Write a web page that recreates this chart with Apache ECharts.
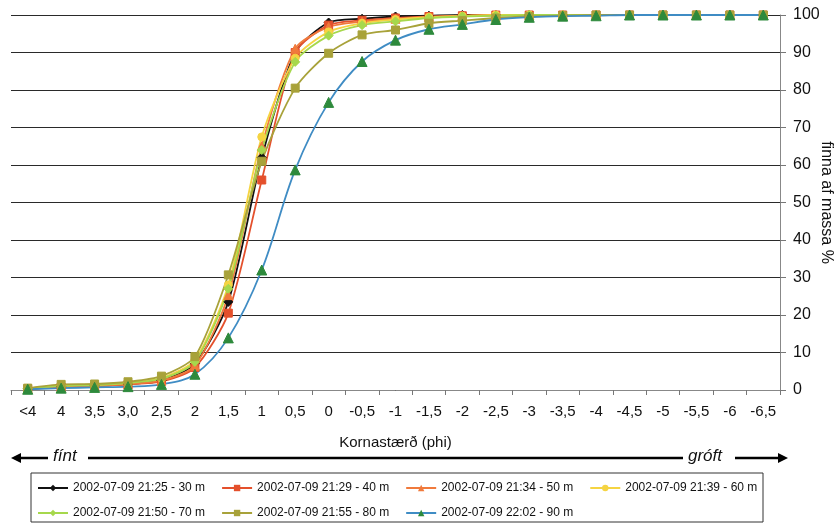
<!DOCTYPE html>
<html>
<head>
<meta charset="utf-8">
<script src="https://cdn.jsdelivr.net/npm/echarts@6/dist/echarts.min.js"></script>
<style>
  html, body { margin: 0; padding: 0; background: #fff; }
  #chart { width: 837px; height: 524px; }
</style>
</head>
<body>
<div id="chart"></div>
<script>
// Grain size classes (phi), fine to coarse
var categories = ['<4', '4', '3,5', '3,0', '2,5', '2', '1,5', '1', '0,5', '0', '-0,5', '-1', '-1,5', '-2', '-2,5', '-3', '-3,5', '-4', '-4,5', '-5', '-5,5', '-6', '-6,5'];

// Cumulative mass percent per sample
var s2125 = [0.3, 0.9, 1.1, 1.6, 2.5, 7.0, 23.5, 62, 90.0, 98.0, 99.0, 99.6, 99.8, 100, 100, 100, 100, 100, 100, 100, 100, 100, 100];
var s2129 = [0.3, 0.8, 1.0, 1.5, 2.3, 6.0, 20.5, 56, 90.0, 97.3, 98.6, 99.2, 99.6, 99.8, 100, 100, 100, 100, 100, 100, 100, 100, 100];
var s2134 = [0.3, 0.9, 1.1, 1.6, 2.5, 6.5, 25.3, 65, 91.0, 96.8, 98.2, 99.0, 99.5, 99.8, 100, 100, 100, 100, 100, 100, 100, 100, 100];
var s2139 = [0.4, 1.2, 1.4, 2.0, 3.2, 8.0, 28.0, 67.5, 88.5, 95.5, 97.8, 98.8, 99.4, 99.7, 100, 100, 100, 100, 100, 100, 100, 100, 100];
var s2150 = [0.4, 1.1, 1.3, 1.9, 3.0, 7.5, 27.0, 64, 87.5, 94.5, 97.3, 98.3, 99.2, 99.6, 99.8, 100, 100, 100, 100, 100, 100, 100, 100];
var s2155 = [0.5, 1.5, 1.6, 2.2, 3.7, 8.9, 30.7, 61, 80.5, 89.8, 94.7, 96.0, 97.8, 98.5, 99.2, 99.6, 99.8, 100, 100, 100, 100, 100, 100];
var s2202 = [0.2, 0.5, 0.7, 0.9, 1.5, 4.2, 13.9, 32, 58.7, 76.7, 87.6, 93.3, 96.2, 97.5, 98.8, 99.4, 99.7, 99.8, 100, 100, 100, 100, 100];

var seriesNames = [
  '2002-07-09 21:25 - 30 m',
  '2002-07-09 21:29 - 40 m',
  '2002-07-09 21:34 - 50 m',
  '2002-07-09 21:39 - 60 m',
  '2002-07-09 21:50 - 70 m',
  '2002-07-09 21:55 - 80 m',
  '2002-07-09 22:02 - 90 m'
];

var FONT = 'Liberation Sans, Arial, sans-serif';

function mkSeries(name, data, lineColor, markColor, symbol, size, smooth) {
  return {
    name: name,
    type: 'line',
    data: data,
    symbol: symbol,
    symbolSize: size,
    smooth: smooth,
    lineStyle: { color: lineColor, width: 1.8 },
    itemStyle: { color: markColor, borderColor: markColor },
    emphasis: { disabled: true }
  };
}

function mkLegend(top, names) {
  return {
    left: 37,
    top: top,
    itemWidth: 30,
    itemHeight: 8,
    itemGap: 16,
    padding: 0,
    textStyle: { fontSize: 12, color: '#111', fontFamily: FONT },
    data: names
  };
}

var chart = echarts.init(document.getElementById('chart'), null, { renderer: 'canvas' });

chart.setOption({
  animation: false,
  backgroundColor: '#ffffff',
  grid: { left: 11, right: 57, top: 15, bottom: 134, containLabel: false, outerBoundsMode: 'none' },
  xAxis: {
    type: 'category',
    data: categories,
    boundaryGap: true,
    axisLine: { show: true, lineStyle: { color: '#888', width: 1 } },
    axisTick: { show: true, length: 5, interval: 0, lineStyle: { color: '#777' } },
    axisLabel: { interval: 0, fontSize: 15, color: '#111', margin: 14, fontFamily: FONT },
    splitLine: { show: false },
    name: 'Kornastærð (phi)',
    nameLocation: 'middle',
    nameGap: 45,
    nameMoveOverlap: false,
    nameTextStyle: { fontSize: 15, color: '#111', fontFamily: FONT }
  },
  yAxis: {
    type: 'value',
    position: 'right',
    min: 0,
    max: 100,
    interval: 10,
    axisLine: { show: true, lineStyle: { color: '#888', width: 1 } },
    axisTick: { show: true, length: 6, lineStyle: { color: '#777' } },
    axisLabel: { fontSize: 16, color: '#111', margin: 13, fontFamily: FONT },
    splitLine: { show: true, lineStyle: { color: '#2a2a2a', width: 1.2 } },
    name: 'finna af massa %',
    nameLocation: 'middle',
    nameRotate: -90,
    nameGap: 38,
    nameMoveOverlap: false,
    nameTextStyle: { fontSize: 16, color: '#111', fontFamily: FONT }
  },
  legend: [
    mkLegend(482, seriesNames.slice(0, 4)),
    mkLegend(507, seriesNames.slice(4))
  ],
  graphic: [
    // legend frame
    { type: 'rect', shape: { x: 31, y: 473, width: 732, height: 49 }, style: { fill: 'none', stroke: '#333', lineWidth: 1 }, z: 0 },
    // fine-to-coarse direction arrow
    { type: 'line', shape: { x1: 20, y1: 458, x2: 48, y2: 458 }, style: { stroke: '#000', lineWidth: 2.5 } },
    { type: 'polygon', shape: { points: [[11, 458], [21, 453], [21, 463]] }, style: { fill: '#000' } },
    { type: 'text', left: 53, top: 448, style: { text: 'fínt', font: 'italic 17px ' + FONT, fill: '#111' } },
    { type: 'line', shape: { x1: 88, y1: 458, x2: 683, y2: 458 }, style: { stroke: '#000', lineWidth: 2.5 } },
    { type: 'text', left: 688, top: 448, style: { text: 'gróft', font: 'italic 17px ' + FONT, fill: '#111' } },
    { type: 'line', shape: { x1: 735, y1: 458, x2: 779, y2: 458 }, style: { stroke: '#000', lineWidth: 2.5 } },
    { type: 'polygon', shape: { points: [[788, 458], [778, 453], [778, 463]] }, style: { fill: '#000' } }
  ],
  series: [
    mkSeries(seriesNames[0], s2125, '#111111', '#111111', 'diamond', 9, 0.25),
    mkSeries(seriesNames[1], s2129, '#e4502c', '#e4502c', 'rect', 8, 0.25),
    mkSeries(seriesNames[2], s2134, '#f07a3c', '#f07a3c', 'triangle', 9, 0.25),
    mkSeries(seriesNames[3], s2139, '#f5d442', '#f5d442', 'circle', 8, 0.25),
    mkSeries(seriesNames[4], s2150, '#a6d84c', '#a6d84c', 'diamond', 9, 0.25),
    mkSeries(seriesNames[5], s2155, '#a8a23a', '#a8a23a', 'rect', 8, 0.25),
    mkSeries(seriesNames[6], s2202, '#3f8cc4', '#2e8a3c', 'triangle', 10, 0.35)
  ]
});
</script>
</body>
</html>
